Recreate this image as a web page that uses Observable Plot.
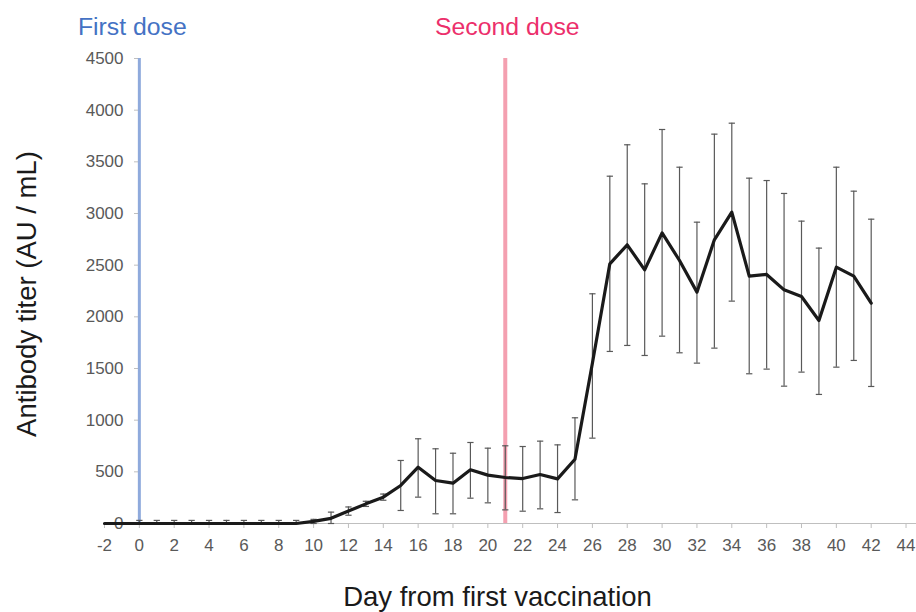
<!DOCTYPE html>
<html>
<head>
<meta charset="utf-8">
<script src="https://cdn.jsdelivr.net/npm/d3@7"></script>
<script src="https://cdn.jsdelivr.net/npm/@observablehq/plot@0.6"></script>
<style>
  body { margin: 0; background: #fff; }
  #chart svg { display: block; }
</style>
</head>
<body>
<div id="chart"></div>
<script>
// Days from first vaccination
const days = [-2, -1, 0, 1, 2, 3, 4, 5, 6, 7, 8, 9, 10, 11, 12, 13, 14, 15, 16, 17, 18, 19, 20,
  21, 22, 23, 24, 25, 26, 27, 28, 29, 30, 31, 32, 33, 34, 35, 36, 37, 38, 39, 40, 41, 42];
// Mean antibody titer (AU / mL)
const titer = [0, 0, 0, 0, 0, 0, 0, 0, 0, 0, 0, 0, 20, 50, 120, 190, 255, 368, 545, 416, 390, 520, 468,
  445, 435, 474, 432, 622, 1550, 2513, 2697, 2455, 2813, 2545, 2239, 2745, 3013, 2394, 2410, 2261, 2197, 1965, 2481, 2394, 2132];
// Error bar upper ends
const errHigh = [null, null, 30, 30, 30, 30, 30, 30, 30, 30, 30, 30, 40, 110, 160, 215, 285, 610, 820, 723, 680, 784, 729,
  752, 745, 797, 761, 1023, 2223, 3361, 3665, 3287, 3813, 3448, 2916, 3768, 3874, 3342, 3319, 3194, 2926, 2665, 3448, 3216, 2945];
// Error bar lower ends
const errLow = [null, null, 0, 0, 0, 0, 0, 0, 0, 0, 0, 0, 0, 0, 80, 165, 225, 126, 255, 94, 94, 245, 200,
  132, 119, 142, 106, 229, 826, 1665, 1723, 1626, 1813, 1652, 1552, 1697, 2152, 1449, 1494, 1329, 1465, 1249, 1513, 1578, 1326];

const xTicks = d3.range(-2, 45, 2);
const yTicks = d3.range(0, 4501, 500);
const doseDays = [0, 21];
const doseLabels = ["First dose", "Second dose"];

const data = days.map((d, i) => ({day: d, titer: titer[i], hi: errHigh[i], lo: errLow[i]}));
const errData = data.filter(d => d.hi != null);

const chart = Plot.plot({
  width: 916,
  height: 612,
  marginTop: 58,
  marginBottom: 89,
  marginLeft: 104,
  marginRight: 0,
  x: {domain: [-2, 44.6]},
  y: {domain: [0, 4500]},
  style: {fontFamily: "'Liberation Sans', Arial, sans-serif", background: "#fff", color: "#595959"},
  marks: [
    Plot.ruleY([0], {stroke: "#bfbfbf", strokeWidth: 1}),
    Plot.axisX({ticks: xTicks, tickFormat: d => String(d), tickSize: 5, tickPadding: 10, fontSize: 17, stroke: "#bfbfbf", fill: "#595959", label: null}),
    Plot.axisY({ticks: yTicks, tickFormat: d => String(d), tickSize: 5, tickPadding: 11, dx: 35, fontSize: 17, stroke: "#bfbfbf", fill: "#595959", label: null}),
    Plot.ruleX([doseDays[0]], {y1: 0, y2: 4500, stroke: "#8FAADC", strokeWidth: 3}),
    Plot.ruleX([doseDays[1]], {y1: 0, y2: 4500, stroke: "#F4A0B0", strokeWidth: 4}),
    Plot.ruleX(errData, {x: "day", y1: "lo", y2: "hi", stroke: "#595959", strokeWidth: 1.2}),
    Plot.link(errData, {x1: d => d.day - 0.18, x2: d => d.day + 0.18, y1: "hi", y2: "hi", stroke: "#595959", strokeWidth: 1.2}),
    Plot.link(errData, {x1: d => d.day - 0.18, x2: d => d.day + 0.18, y1: "lo", y2: "lo", stroke: "#595959", strokeWidth: 1.2}),
    Plot.line(data, {x: "day", y: "titer", stroke: "#1a1a1a", strokeWidth: 3.2, strokeLinejoin: "round"}),
    Plot.text([doseLabels[0]], {x: doseDays[0], y: 4500, dy: -31, dx: -7, fontSize: 24.8, fill: "#4472C4"}),
    Plot.text([doseLabels[1]], {x: doseDays[1], y: 4500, dy: -31, dx: 2, fontSize: 24.8, fill: "#EC2F6B"}),
    Plot.text(["Day from first vaccination"], {frameAnchor: "bottom", textAnchor: "middle", lineAnchor: "middle", dx: -13, dy: 74, fontSize: 27.5, fill: "#1a1a1a"}),
    Plot.text(["Antibody titer (AU / mL)"], {frameAnchor: "left", textAnchor: "middle", lineAnchor: "middle", dx: -77, dy: 3, rotate: -90, fontSize: 27.5, fill: "#1a1a1a"})
  ]
});
document.getElementById("chart").appendChild(chart);
</script>
</body>
</html>
